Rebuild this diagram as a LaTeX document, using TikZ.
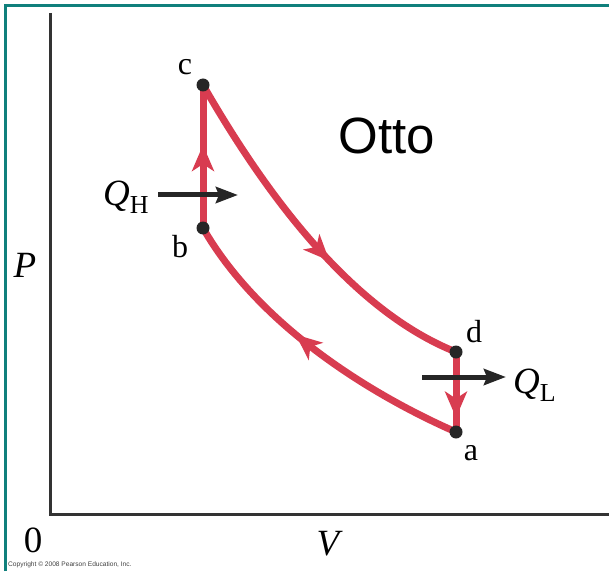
\documentclass[tikz,border=0pt]{standalone}
\usepackage{fontspec}
\setmainfont{Liberation Serif}
\newfontfamily\labelsans{Liberation Sans}
\usepackage{tikz}
\usetikzlibrary{arrows.meta,decorations.markings}
\definecolor{cyclered}{RGB}{216,60,80}
\definecolor{frameteal}{RGB}{16,128,124}

\begin{document}
\begin{tikzpicture}[>=Stealth,x=1pt,y=1pt,
    path/.style={cyclered,line width=7pt},
    midtip/.style={postaction={decorate},decoration={markings,
      mark=at position #1 with {\arrow{Stealth[length=26pt,width=22pt,inset=7pt]}}}},
    heat/.style={black!85,line width=5pt,-{Stealth[length=22pt,width=16pt,inset=3pt]}},
    dot/.style={fill=black!85},
    ptlabel/.style={font=\fontsize{32}{36}\selectfont,inner sep=0pt,anchor=base},
    biglabel/.style={font=\fontsize{37}{42}\selectfont,inner sep=0pt}]
  \useasboundingbox (0,0) rectangle (609,571);
  % frame (teal, cut at right and bottom)
  \draw[frameteal,line width=3.5pt] (5.5,0) -- (5.5,565.5) -- (609,565.5);
  % axes
  \coordinate (origin) at (50.5,56.5);
  \coordinate (ptop) at (50.5,558);
  \coordinate (vright) at (609,56.5);
  \draw[black!80,line width=2.5pt] (ptop) -- (origin) -- (vright);
  \node[biglabel,anchor=base] (plabel) at (25,294) {\itshape P};
  \node[biglabel,anchor=base] (vlabel) at (328,16) {\itshape V};
  \node[biglabel,anchor=base] (zero) at (33,19) {0};
  % states of the cycle
  \coordinate (a) at (456,139);
  \coordinate (b) at (203,343);
  \coordinate (c) at (203,486);
  \coordinate (d) at (456,219);
  % the four strokes
  \draw[path,midtip=0.58] (b) -- (c);
  \draw[path,midtip=0.58] (c) .. controls (264.5,379) and (350.4,261) .. (d);
  \draw[path,midtip=0.82] (d) -- (a);
  \draw[path,midtip=0.57] (a) .. controls (369.4,177) and (258.6,246) .. (b);
  \foreach \p in {a,b,c,d}
    \fill[dot] (\p) circle (6.5);
  \node[ptlabel] (clabel) at (185,496) {c};
  \node[ptlabel] (blabel) at (180,314) {b};
  \node[ptlabel] (dlabel) at (474,229) {d};
  \node[ptlabel] (alabel) at (471,111) {a};
  % heat in and out
  \node[biglabel,anchor=base west] (qh) at (103,366) {\itshape Q\/\upshape\textsubscript{H}};
  \node[biglabel,anchor=base west] (ql) at (513,178) {\itshape Q\/\upshape\textsubscript{L}};
  \coordinate (qhstart) at (158,376);
  \coordinate (qhend) at (238,376);
  \coordinate (qlstart) at (422,194);
  \coordinate (qlend) at (506,194);
  \draw[heat] (qhstart) -- (qhend);
  \draw[heat] (qlstart) -- (qlend);
  \node[font=\labelsans\fontsize{51}{56}\selectfont,inner sep=0pt] (otto) at (387,435) {Otto};
  \node[font=\labelsans\fontsize{6.6}{7}\selectfont,text=black!75,inner sep=0pt,anchor=base west] (copy) at (8,5) {Copyright \textcopyright\ 2008 Pearson Education, Inc.};
\end{tikzpicture}
\end{document}
